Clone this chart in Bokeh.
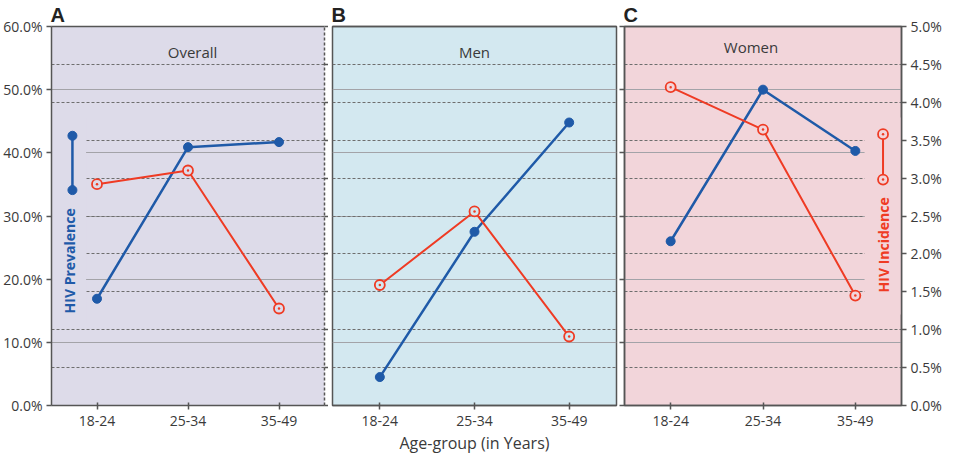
import math
from bokeh.plotting import figure
from bokeh.models import (Range1d, LinearAxis, FixedTicker, PrintfTickFormatter, Grid, Label,
                          CustomLabelingPolicy)
from bokeh.layouts import row
from bokeh.embed import file_html
from bokeh.resources import INLINE
from bokeh.core.properties import value

# ---------------- data ----------------
age_groups = ["18-24", "25-34", "35-49"]
panel_letters = ["A", "B", "C"]
panel_titles = ["Overall", "Men", "Women"]

prevalence_overall = [16.9, 40.9, 41.7]
prevalence_men = [4.5, 27.5, 44.8]
prevalence_women = [26.0, 50.0, 40.3]

incidence_overall = [2.92, 3.10, 1.28]
incidence_men = [1.59, 2.56, 0.91]
incidence_women = [4.20, 3.64, 1.45]

prevalence_ticks = [0, 10, 20, 30, 40, 50, 60]
incidence_ticks = [0.0, 0.5, 1.0, 1.5, 2.0, 2.5, 3.0, 3.5, 4.0, 4.5, 5.0]

legend_prevalence = [34.1, 42.7]
legend_incidence = [2.98, 3.58]

# ---------------- style ----------------
BLUE = "#1f5aa8"
RED = "#ef3b24"
AXIS = "#555555"
TXT = "#3a3a3a"
FONT = "Open Sans"
BGS = ["#dddbe9", "#d3e8f0", "#f2d5da"]
FRAME_H = 379

xs = [i + 1 for i in range(len(age_groups))]


def style_axis(ax, labels=True, tick_out=5, tick_in=0):
    ax.axis_line_color = AXIS
    ax.axis_line_width = 1.5
    ax.major_tick_line_color = AXIS
    ax.major_tick_line_width = 1.5
    ax.major_tick_out = tick_out
    ax.major_tick_in = tick_in
    ax.minor_tick_line_color = None
    ax.major_label_text_font = FONT
    ax.major_label_text_color = TXT
    if labels:
        ax.major_label_text_font_size = "14px"
        ax.major_label_standoff = 4
    else:
        ax.major_label_text_font_size = "0px"
        ax.major_label_standoff = 0
        ax.major_label_policy = CustomLabelingPolicy(code="return new Set()")


def make_panel(i, prev, inc, fw, left, right, xlabel, legend, min_left, min_right):
    bg = BGS[i]
    p = figure(x_range=Range1d(0.5, 3.5), y_range=Range1d(0, 60),
               frame_width=fw, frame_height=FRAME_H,
               output_backend="svg", toolbar_location=None,
               y_axis_location=None, x_axis_location="below",
               title=panel_letters[i],
               min_border_left=min_left, min_border_right=min_right,
               min_border_top=0, min_border_bottom=0)
    p.extra_y_ranges = {"inc": Range1d(0, 5)}
    p.background_fill_color = bg
    p.border_fill_color = "white"
    p.title.text_font = "Liberation Sans"
    p.title.text_font_size = "20px"
    p.title.text_font_style = "bold"
    p.title.text_color = "#222222"
    p.title.standoff = 2
    p.title.offset = -1

    if i == 0:
        p.outline_line_color = None
    else:
        p.outline_line_color = AXIS
        p.outline_line_width = 1.5

    # bottom axis
    xa = p.xaxis[0]
    style_axis(xa, labels=True, tick_out=4, tick_in=3)
    xa.ticker = FixedTicker(ticks=xs)
    xa.major_label_overrides = {x: g for x, g in zip(xs, age_groups)}
    xa.major_label_standoff = 6
    if xlabel:
        xa.axis_label = xlabel
        xa.axis_label_text_font = FONT
        xa.axis_label_text_font_size = "16px"
        xa.axis_label_text_font_style = "normal"
        xa.axis_label_text_color = TXT
        xa.axis_label_standoff = 3

    # top border axis
    top = LinearAxis(ticker=FixedTicker(ticks=[]))
    style_axis(top, labels=False, tick_out=0)
    p.add_layout(top, "above")

    # left axis (prevalence)
    if left is not None:
        la = LinearAxis(ticker=FixedTicker(ticks=prevalence_ticks),
                        formatter=PrintfTickFormatter(format="%.1f%%"))
        style_axis(la, labels=(left == "labels"), tick_out=5)
        p.add_layout(la, "left")

    # right axis (incidence)
    if right is not None:
        ra = LinearAxis(y_range_name="inc", ticker=FixedTicker(ticks=incidence_ticks),
                        formatter=PrintfTickFormatter(format="%.1f%%"))
        style_axis(ra, labels=(right == "labels"), tick_out=5 if right == "labels" else 4)
        if right == "dashed":
            ra.axis_line_dash = "3 2"
        p.add_layout(ra, "right")

    # grids
    p.xgrid.visible = False
    p.ygrid.ticker = FixedTicker(ticks=prevalence_ticks[1:-1])
    p.ygrid.grid_line_color = "#a3a3a8"
    p.ygrid.grid_line_width = 1
    g2 = Grid(dimension=1, y_range_name="inc",
              ticker=FixedTicker(ticks=incidence_ticks[1:-1]),
              grid_line_color="#6e6e6e", grid_line_dash="3 2", grid_line_width=1)
    p.add_layout(g2)

    # legend
    if legend == "prevalence":
        p.quad(left=0.5, right=0.88, bottom=13, top=45.5, fill_color=bg, line_color=None)
        lx = 0.73
        p.segment(x0=[lx], y0=[legend_prevalence[0]], x1=[lx], y1=[legend_prevalence[1]],
                  line_color=BLUE, line_width=2.5)
        p.scatter(x=[lx, lx], y=legend_prevalence, size=9, fill_color=BLUE, line_color=BLUE)
        p.text(x=[0.70], y=[22.9], text=["HIV Prevalence"], angle=math.pi / 2,
               text_align="center", text_baseline="middle",
               text_font=value(FONT), text_font_style="bold", text_font_size="14px",
               text_color=BLUE)
    elif legend == "incidence":
        p.quad(left=3.10, right=3.5, bottom=1.2, top=3.8, fill_color=bg, line_color=None,
               y_range_name="inc")
        lx = 3.30
        p.segment(x0=[lx], y0=[legend_incidence[0]], x1=[lx], y1=[legend_incidence[1]],
                  line_color=RED, line_width=2, y_range_name="inc")
        p.scatter(x=[lx, lx], y=legend_incidence, marker="circle_dot", size=10,
                  fill_color=bg, line_color=RED, line_width=1.8, y_range_name="inc")
        p.text(x=[3.30], y=[2.12], text=["HIV Incidence"], angle=math.pi / 2,
               text_align="center", text_baseline="middle",
               text_font=value(FONT), text_font_style="bold", text_font_size="14px",
               text_color=RED, y_range_name="inc")

    # data
    p.line(x=xs, y=prev, line_color=BLUE, line_width=2.5)
    p.scatter(x=xs, y=prev, size=9, fill_color=BLUE, line_color=BLUE)
    p.line(x=xs, y=inc, line_color=RED, line_width=2, y_range_name="inc")
    p.scatter(x=xs, y=inc, marker="circle_dot", size=10, fill_color=bg,
              line_color=RED, line_width=1.8, y_range_name="inc")

    # panel title
    tx = [2.05, 2.0, 1.87][i]
    ty = [56.0, 56.0, 56.8][i]
    p.add_layout(Label(x=tx, y=ty, text=panel_titles[i], text_align="center",
                       text_baseline="middle", text_font=FONT, text_font_size="15px",
                       text_color=TXT))
    return p


pa = make_panel(0, prevalence_overall, incidence_overall, 273, "labels", "dashed",
                None, "prevalence", 0, 0)
pb = make_panel(1, prevalence_men, incidence_men, 284, None, None,
                "Age-group (in Years)", None, 4, 3)
pc = make_panel(2, prevalence_women, incidence_women, 277, "ticks", "labels",
                None, "incidence", 0, 0)

layout = row(pa, pb, pc)
open("out.html", "w").write(file_html(layout, INLINE))
